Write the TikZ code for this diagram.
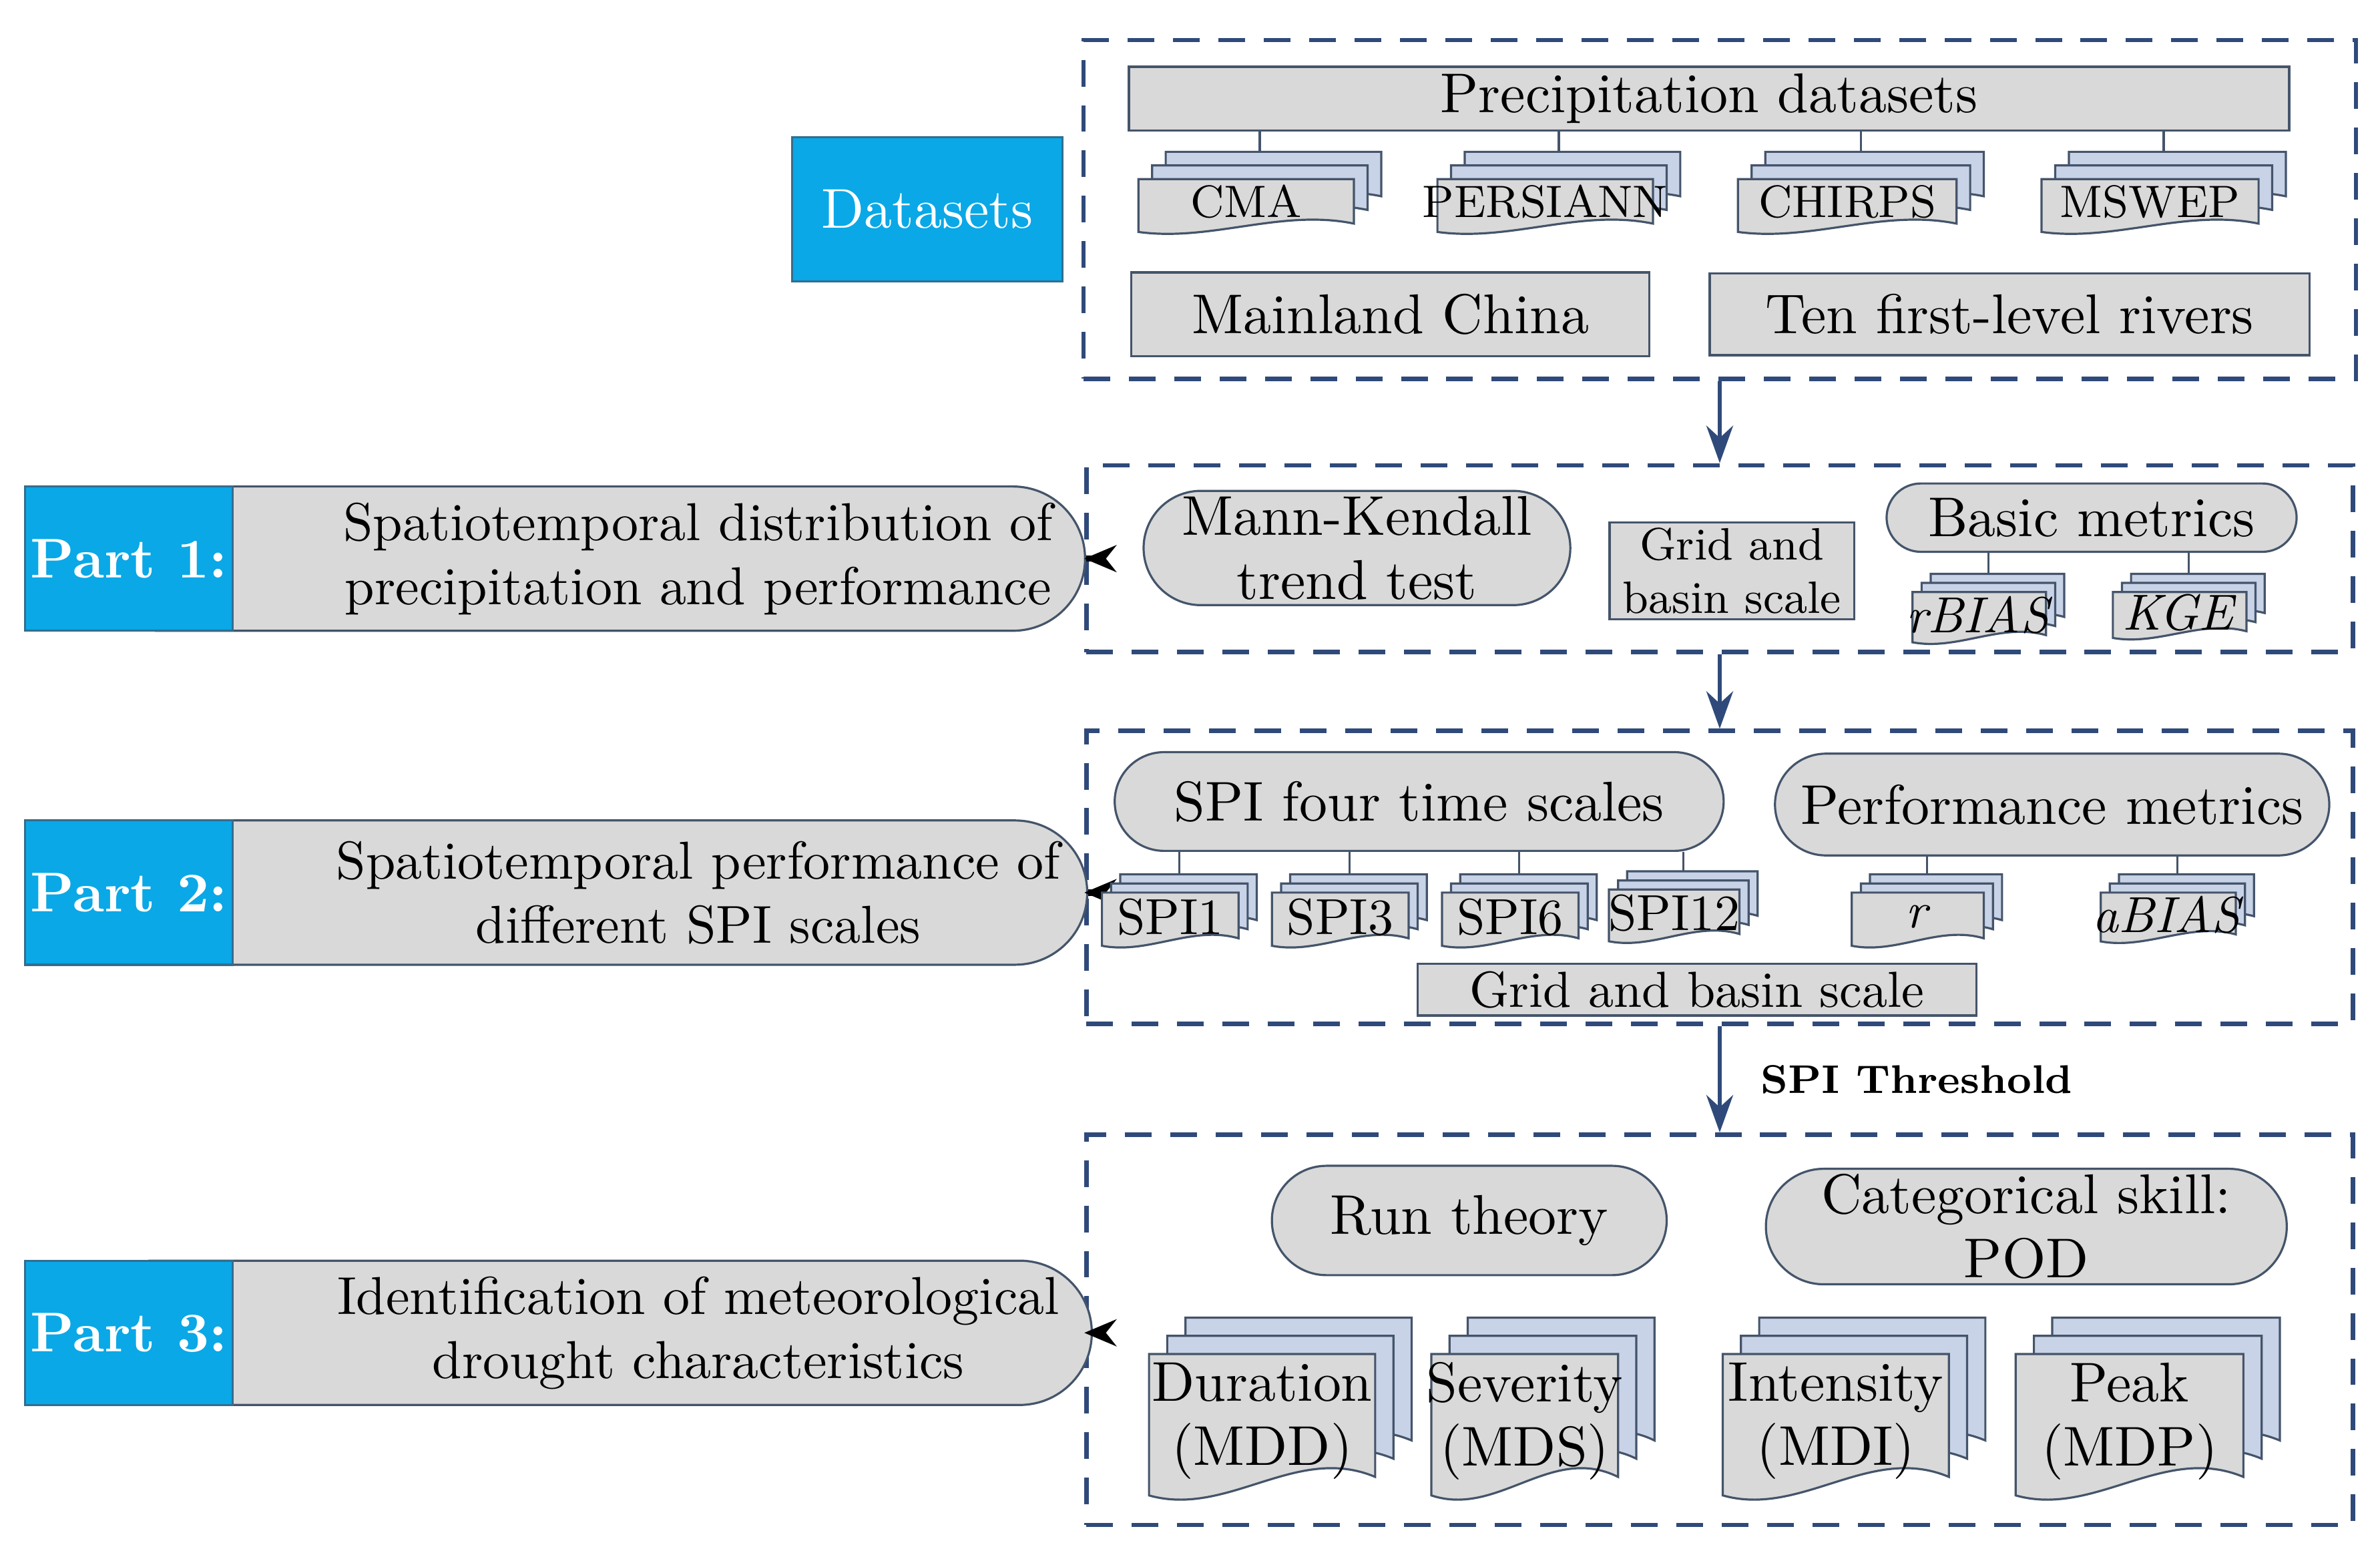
\documentclass[tikz,border=0pt]{standalone}
\usetikzlibrary{shapes.misc,arrows.meta,positioning}
\definecolor{boxgrey}{HTML}{D9D9D9}
\definecolor{sheetblue}{HTML}{C9D3E8}
\definecolor{edgeblue}{HTML}{44546A}
\definecolor{framenavy}{HTML}{2F4A7A}
\definecolor{partblue}{HTML}{0AA8E6}

% one stack of three sheets: name, x1, y1, x2, y2, offset, text
\newcommand{\docstack}[8][]{%
  \foreach \j/\col in {0/sheetblue,1/sheetblue,2/boxgrey}{
    \draw[sheet, fill=\col]
      ({#3+(2-\j)*#7},{#4+\j*#7}) -- ({#5-\j*#7},{#4+\j*#7})
      -- ({#5-\j*#7},{#6-(2-\j)*#7-0.14*(#6-#4)})
      .. controls ({#5-\j*#7-0.3*(#5-#3)},{#6-(2-\j)*#7-0.32*(#6-#4)})
      and ({#3+(2-\j)*#7+0.3*(#5-#3)},{#6-(2-\j)*#7+0.08*(#6-#4)})
      .. ({#3+(2-\j)*#7},{#6-(2-\j)*#7-0.04*(#6-#4)}) -- cycle;
  }
  \coordinate (#2-t) at ({(#3+#5)/2},{#4});
  \node[align=center, inner sep=0pt, #1] (#2) at ({(#3+#5)/2-#7},{(#4+#6)/2+0.6*#7}) {#8};
}

\begin{document}
\begin{tikzpicture}[x=0.01cm, y=-0.01cm,
    % Styles
    frame/.style={draw=framenavy, thick, dash pattern=on 5pt off 3.5pt, inner sep=0pt},
    greybox/.style={draw=edgeblue, fill=boxgrey, inner sep=1pt, align=center},
    pill/.style={greybox, rounded rectangle},
    partpill/.style={pill, rounded rectangle left arc=none, font=\fontsize{10}{12}\selectfont},
    partlabel/.style={draw=edgeblue!70!partblue, fill=partblue, text=white, inner sep=1pt, font=\fontsize{10.5}{12}\selectfont},
    sheet/.style={draw=edgeblue, line width=0.4pt},
    stem/.style={draw=edgeblue, line width=0.4pt},
    flow/.style={-{Stealth[length=7pt,width=5pt]}, framenavy, thick},
    feed/.style={-{Stealth[length=6pt,width=5pt]}, black, very thick},
    big/.style={font=\fontsize{10.5}{12}\selectfont},
    mid/.style={font=\fontsize{9.5}{11}\selectfont},
    small/.style={font=\fontsize{8.5}{10}\selectfont},
]
\useasboundingbox (0,0) rectangle (1568,1024);

% Frames
\node[frame, minimum width=83.8mm, minimum height=22.3mm] (frame1) at (1133,138) {};
\node[frame, minimum width=83.4mm, minimum height=12.3mm] (frame2) at (1133,368) {};
\node[frame, minimum width=83.4mm, minimum height=19.3mm] (frame3) at (1133,578) {};
\node[frame, minimum width=83.4mm, minimum height=25.7mm] (frame4) at (1133,876) {};

\draw[flow] (frame1.south) -- (frame2.north);
\draw[flow] (frame2.south) -- (frame3.north);
\draw[flow] (frame3.south) -- node[right, black, font=\fontsize{7.5}{10}\selectfont\bfseries, xshift=4pt] {SPI Threshold} (frame4.north);

% Left column
\node[partlabel, minimum width=17.8mm, minimum height=9.5mm] (datasets) at (611,138) {Datasets};

\node[partpill, minimum width=52mm, minimum height=9.5mm] (part1t) at (400,368) {\hspace*{12mm}Spatiotemporal distribution of\\\hspace*{12mm}precipitation and performance};
\node[partlabel, minimum width=13.6mm, minimum height=9.5mm, font=\fontsize{10.5}{12}\selectfont\bfseries] (part1) at (85,368) {Part 1:};
\node[partpill, minimum width=52mm, minimum height=9.5mm] (part2t) at (400,588) {\hspace*{12mm}Spatiotemporal performance of\\\hspace*{12mm}different SPI scales};
\node[partlabel, minimum width=13.6mm, minimum height=9.5mm, font=\fontsize{10.5}{12}\selectfont\bfseries] (part2) at (85,588) {Part 2:};
\node[partpill, minimum width=52mm, minimum height=9.5mm] (part3t) at (400,878) {\hspace*{12mm}Identification of meteorological\\\hspace*{12mm}drought characteristics};
\node[partlabel, minimum width=13.6mm, minimum height=9.5mm, font=\fontsize{10.5}{12}\selectfont\bfseries] (part3) at (85,878) {Part 3:};

\draw[feed] (part1t.east) -- (part1t.east -| frame2.west);
\draw[feed] (part2t.east) -- (part2t.east -| frame3.west);
\draw[feed] (part3t.east) -- (part3t.east -| frame4.west);

% Datasets frame
\node[greybox, big, minimum width=76.4mm, minimum height=4.2mm] (precip) at (1126,65) {Precipitation datasets};
\docstack[small]{cma}{750}{100}{910}{155}{9}{CMA}
\docstack[small]{persiann}{947}{100}{1107}{155}{9}{PERSIANN}
\docstack[small]{chirps}{1145}{100}{1307}{155}{9}{CHIRPS}
\docstack[small]{mswep}{1345}{100}{1506}{155}{9}{MSWEP}
\foreach \d in {cma,persiann,chirps,mswep}
  \draw[stem] (precip.south -| \d-t) -- (\d-t);
\node[greybox, big, minimum width=34.1mm, minimum height=5.5mm] (mainland) at (916,207) {Mainland China};
\node[greybox, big, minimum width=39.5mm, minimum height=5.4mm] (rivers) at (1324,207) {Ten first-level rivers};

% Part 1 frame
\node[pill, big, minimum width=28.8mm, minimum height=7.3mm] (mk) at (894,361) {Mann-Kendall\\trend test};
\node[greybox, small, minimum width=16.1mm, minimum height=5.7mm] (grid1) at (1141,376) {Grid and\\basin scale};
\node[pill, big, minimum width=27.7mm, minimum height=4.5mm] (basic) at (1378,341) {Basic metrics};
\docstack[mid]{rbias}{1260}{378}{1360}{425}{6}{\textit{rBIAS}}
\docstack[mid]{kge}{1392}{378}{1492}{422}{6}{\textit{KGE}}
\foreach \d in {rbias,kge}
  \draw[stem] (basic.south -| \d-t) -- (\d-t);

% Part 2 frame
\node[pill, big, minimum width=40.8mm, minimum height=6.5mm] (spi) at (935,528) {SPI four time scales};
\node[pill, big, minimum width=37.2mm, minimum height=6.7mm] (perf) at (1352,530) {Performance metrics};
\docstack[mid]{spi1}{726}{576}{828}{625}{6}{SPI1}
\docstack[mid]{spi3}{838}{576}{940}{625}{6}{SPI3}
\docstack[mid]{spi6}{950}{576}{1052}{625}{6}{SPI6}
\docstack[mid]{spi12}{1060}{574}{1158}{622}{6}{SPI12}
\docstack[mid]{r}{1220}{576}{1319}{625}{6}{\textit{r}}
\docstack[mid]{abias}{1384}{576}{1485}{622}{6}{\textit{aBIAS}}
\foreach \d in {spi1,spi3,spi6,spi12}
  \draw[stem] (spi.south -| \d-t) -- (\d-t);
\foreach \d in {r,abias}
  \draw[stem] (perf.south -| \d-t) -- (\d-t);
\node[greybox, mid, minimum width=36.8mm, minimum height=3.4mm] (grid2) at (1118,652) {Grid and basin scale};

% Part 3 frame
\node[pill, big, minimum width=26.7mm, minimum height=7.2mm] (run) at (968,804) {Run theory};
\node[pill, big, minimum width=35mm, minimum height=7.6mm] (cat) at (1335,808) {Categorical skill:\\POD};
\docstack[big]{duration}{757}{868}{930}{990}{12}{Duration\\(MDD)}
\docstack[big]{severity}{943}{868}{1090}{990}{12}{Severity\\(MDS)}
\docstack[big]{intensity}{1135}{868}{1308}{990}{12}{Intensity\\(MDI)}
\docstack[big]{peak}{1328}{868}{1502}{990}{12}{Peak\\(MDP)}

\end{tikzpicture}
\end{document}
